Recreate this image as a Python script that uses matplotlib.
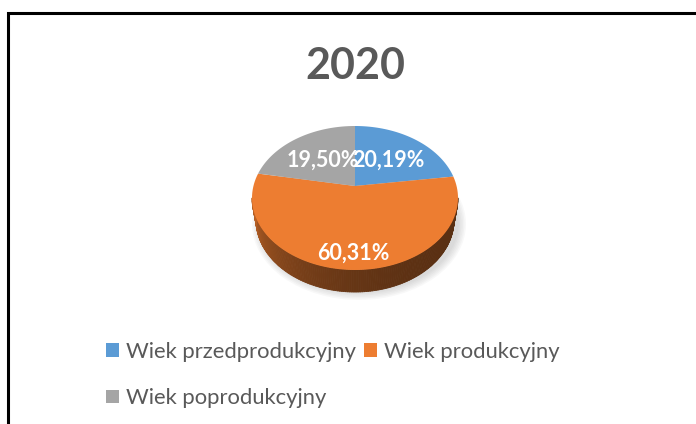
import numpy as np
import matplotlib.pyplot as plt
from matplotlib.patches import Polygon, Patch, Ellipse
from matplotlib.collections import PolyCollection

title = '2020'
categories = ['Wiek przedprodukcyjny', 'Wiek produkcyjny', 'Wiek poprodukcyjny']
shares = [20.19, 60.31, 19.50]
labels = ['20,19%', '60,31%', '19,50%']
colors = ['#5B9BD5', '#ED7D31', '#A5A5A5']

plt.rcParams['font.family'] = ['Lato', 'DejaVu Sans']

fig = plt.figure(figsize=(6.96, 4.24), dpi=100)
ax = fig.add_axes([0, 0, 1, 1])
ax.set_xlim(0, 696)
ax.set_ylim(424, 0)
ax.axis('off')

# border (only top and left visible in the crop)
ax.plot([8, 8, 696], [424, 13, 13], color='black', lw=2.2, solid_joinstyle='miter')

# 3d pie geometry: angles clockwise from 12 o'clock
vx, vy = 355, 186          # vertex of the slices
ecx, ecy = 355, 198        # ellipse centre of the top face
rx, ry = 103, 72
depth = 22
label_r = [0.55, 0.8, 0.55]


def edge(theta, down=0, shrink=0):
    t = np.radians(theta)
    return ecx + (rx - shrink) * np.sin(t), ecy + down - ry * np.cos(t)


def rgb(c):
    c = c.lstrip('#')
    return np.array([int(c[i:i + 2], 16) for i in (0, 2, 4)]) / 255.0


total = sum(shares)
bounds = np.concatenate([[0], np.cumsum(shares) / total * 360])

# soft shadow
for k in range(6):
    ax.add_patch(Ellipse((ecx + 4, ecy + depth + 4), 2 * rx + 8 - 3 * k, 2 * ry + 8 - 3 * k,
                         facecolor='#808080', alpha=0.05, edgecolor='none'))

# side walls (front half only)
for i in range(len(shares)):
    a0 = max(bounds[i], 90)
    a1 = min(bounds[i + 1], 270)
    if a1 <= a0:
        continue
    th = np.linspace(a0, a1, 150)
    quads = []
    cols = []
    base = rgb(colors[i])
    for j in range(len(th) - 1):
        p0 = edge(th[j])
        p1 = edge(th[j + 1])
        q1 = edge(th[j + 1], depth, 4)
        q0 = edge(th[j], depth, 4)
        quads.append([p0, p1, q1, q0])
        m = (th[j] + th[j + 1]) / 2
        f = 0.38 + 0.40 * ((m - 90) / 180) ** 3
        cols.append(np.clip(base * f, 0, 1))
    ax.add_collection(PolyCollection(quads, facecolors=cols, edgecolors=cols, lw=0.6))

# top faces
for i in range(len(shares)):
    th = np.linspace(bounds[i], bounds[i + 1], 100)
    pts = [(vx, vy)] + [edge(t) for t in th]
    ax.add_patch(Polygon(pts, closed=True, facecolor=colors[i], edgecolor='none'))

# labels
for i in range(len(shares)):
    m = (bounds[i] + bounds[i + 1]) / 2
    ex, ey = edge(m)
    lx = vx + label_r[i] * (ex - vx)
    ly = vy + label_r[i] * (ey - vy)
    ax.text(lx, ly, labels[i], ha='center', va='center', color='white',
            fontsize=15.5, fontweight='bold')

ax.text(355, 66, title, ha='center', va='center', color='#595959',
        fontsize=31, fontweight='bold')

handles = [Patch(facecolor=c, edgecolor='none') for c in colors]
order = [0, 2, 1]
fig.legend([handles[k] for k in order], [categories[k] for k in order],
           loc='upper left', bbox_to_anchor=(106 / 696, 1 - 342 / 424),
           ncol=2, frameon=False, fontsize=15.8, labelcolor='#595959',
           handlelength=0.58, handleheight=0.58, handletextpad=0.35,
           columnspacing=0.35, labelspacing=1.2, borderpad=0, borderaxespad=0)

fig.savefig('out.png', dpi=100)
